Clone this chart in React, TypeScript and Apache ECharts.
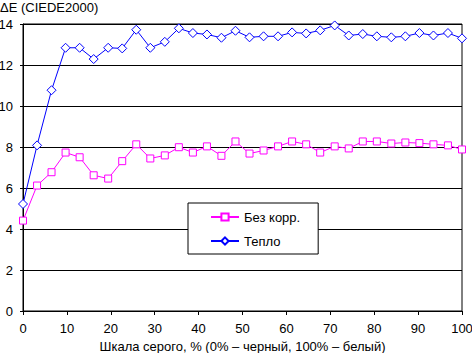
import React, { useEffect, useRef } from "react";
import * as echarts from "echarts";

const grayLevels = [0, 3.2, 6.5, 9.7, 12.9, 16.1, 19.4, 22.6, 25.8, 29.0, 32.3, 35.5, 38.7, 41.9, 45.2, 48.4, 51.6, 54.8, 58.1, 61.3, 64.5, 67.7, 71.0, 74.2, 77.4, 80.6, 83.9, 87.1, 90.3, 93.5, 96.8, 100];

const bezKorr = [4.41, 6.12, 6.77, 7.73, 7.5, 6.62, 6.46, 7.31, 8.13, 7.44, 7.59, 7.99, 7.73, 8.03, 7.57, 8.27, 7.68, 7.83, 8.03, 8.27, 8.13, 7.73, 8.03, 7.93, 8.27, 8.27, 8.17, 8.22, 8.19, 8.13, 8.08, 7.88];

const teplo = [5.22, 8.08, 10.77, 12.84, 12.84, 12.29, 12.84, 12.81, 13.72, 12.84, 13.13, 13.79, 13.56, 13.49, 13.33, 13.67, 13.35, 13.4, 13.4, 13.59, 13.54, 13.69, 13.93, 13.44, 13.51, 13.4, 13.35, 13.4, 13.56, 13.44, 13.56, 13.3];

const seriesNames = ["Без корр.", "Тепло"];
const yTitle = "ΔE (CIEDE2000)";
const xTitle = "Шкала серого, % (0% – черный, 100% – белый)";

const FONT = "Liberation Sans, Arial, sans-serif";
const FS = 13;

export default function App() {
  const ref = useRef<HTMLDivElement>(null);
  useEffect(() => {
    document.body.style.margin = "0";
    const chart = echarts.init(ref.current!, null, { renderer: "svg" });
    const pair = (vals: number[]) => vals.map((v, i) => [grayLevels[i], v]);
    chart.setOption({
      animation: false,
      backgroundColor: "#ffffff",
      textStyle: { fontFamily: FONT },
      grid: {
        left: 23,
        right: 10,
        top: 24,
        bottom: 42,
        containLabel: false,
        outerBoundsMode: "none",
        show: true,
        borderColor: "#000",
        borderWidth: 1,
      },
      graphic: [
        {
          type: "text",
          left: 0,
          top: 1,
          style: { text: yTitle, font: FS + "px " + FONT, fill: "#000" },
        },
      ],
      legend: {
        orient: "vertical",
        left: 188,
        top: 203,
        padding: [7, 18, 6, 22],
        itemGap: 10,
        itemWidth: 28,
        itemHeight: 9,
        itemTextGap: 4,
        backgroundColor: "#fff",
        borderColor: "#000",
        borderWidth: 1,
        borderRadius: 0,
        textStyle: { fontFamily: FONT, fontSize: FS, color: "#000", lineHeight: 14 },
        data: seriesNames,
      },
      xAxis: {
        type: "value",
        min: 0,
        max: 100,
        interval: 10,
        name: xTitle,
        nameLocation: "middle",
        nameGap: 26,
        nameTextStyle: { fontFamily: FONT, fontSize: FS, color: "#000", lineHeight: 14 },
        axisLine: { lineStyle: { color: "#000", width: 1 } },
        axisTick: { show: true, length: 4, lineStyle: { color: "#000" } },
        axisLabel: { color: "#000", fontSize: FS, margin: 11, fontFamily: FONT },
        splitLine: { show: false },
      },
      yAxis: {
        type: "value",
        min: 0,
        max: 14,
        interval: 2,
        axisLine: { show: true, lineStyle: { color: "#000", width: 1 } },
        axisTick: { show: true, length: 3, lineStyle: { color: "#000" } },
        axisLabel: { color: "#000", fontSize: FS, margin: 10, fontFamily: FONT },
        splitLine: { show: true, lineStyle: { color: "#000", width: 1 } },
      },
      series: [
        {
          name: seriesNames[0],
          type: "line",
          data: pair(bezKorr),
          symbol: "rect",
          symbolSize: 7,
          color: "#ff00ff",
          lineStyle: { color: "#ff00ff", width: 1 },
          itemStyle: { color: "#fff", borderColor: "#ff00ff", borderWidth: 1 },
          z: 3,
        },
        {
          name: seriesNames[1],
          type: "line",
          data: pair(teplo),
          symbol: "diamond",
          symbolSize: 9,
          color: "#0000ff",
          lineStyle: { color: "#0000ff", width: 1 },
          itemStyle: { color: "#fff", borderColor: "#0000ff", borderWidth: 1 },
          z: 3,
        },
      ],
    });
    return () => chart.dispose();
  }, []);
  return <div ref={ref} style={{ width: 472, height: 353 }} />;
}
